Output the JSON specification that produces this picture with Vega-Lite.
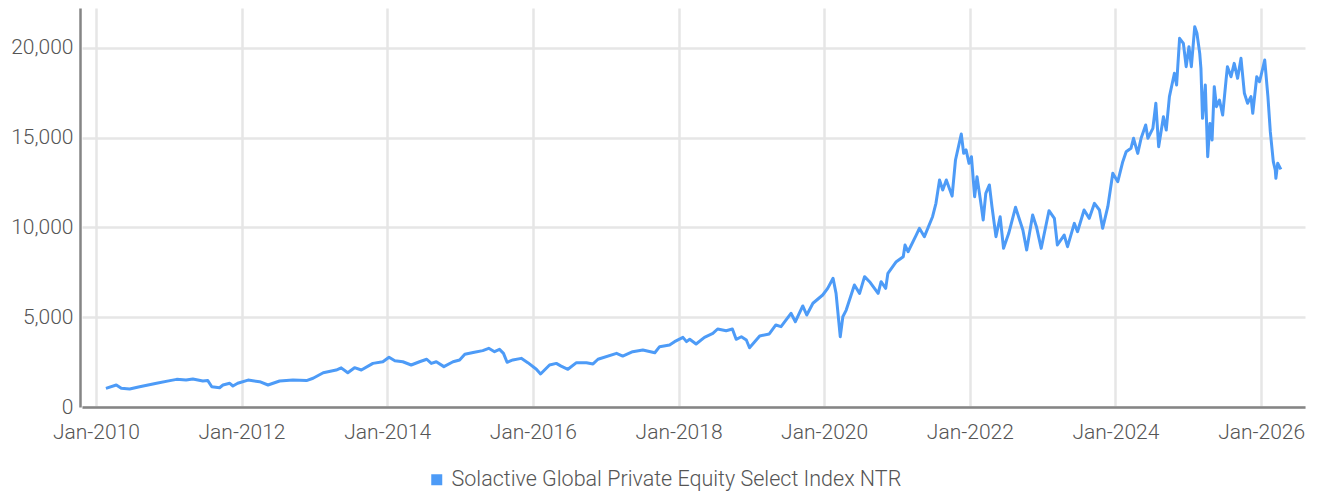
{
  "$schema": "https://vega.github.io/schema/vega-lite/v6.json",
  "width": 1223,
  "height": 399,
  "autosize": {"type": "none"},
  "padding": {"left": 82, "top": 8, "right": 14, "bottom": 86},
  "background": "white",
  "config": {
    "view": {"stroke": null},
    "font": "Roboto",
    "axis": {
      "labelFont": "Roboto",
      "labelFontSize": 21,
      "labelFontWeight": 300,
      "labelColor": "#555555",
      "gridColor": "#e6e6e6",
      "gridWidth": 2.5,
      "domainColor": "#858585",
      "domainWidth": 2.5,
      "ticks": false,
      "title": null
    },
    "legend": {
      "labelFont": "Roboto",
      "labelFontSize": 21.5,
      "labelFontWeight": 300,
      "labelColor": "#555555",
      "labelLimit": 0,
      "padding": 0
    }
  },
  "data": {
    "values": [
      {"date": "2010-02-20", "value": 1040},
      {"date": "2010-04-13", "value": 1225},
      {"date": "2010-05-08", "value": 1040},
      {"date": "2010-06-19", "value": 1000},
      {"date": "2010-08-08", "value": 1130},
      {"date": "2010-11-01", "value": 1320},
      {"date": "2011-01-07", "value": 1470},
      {"date": "2011-02-10", "value": 1540},
      {"date": "2011-03-29", "value": 1500},
      {"date": "2011-05-02", "value": 1560},
      {"date": "2011-06-21", "value": 1450},
      {"date": "2011-07-16", "value": 1470},
      {"date": "2011-08-05", "value": 1130},
      {"date": "2011-09-13", "value": 1075},
      {"date": "2011-09-30", "value": 1225},
      {"date": "2011-11-03", "value": 1320},
      {"date": "2011-11-19", "value": 1170},
      {"date": "2011-12-13", "value": 1320},
      {"date": "2012-02-03", "value": 1500},
      {"date": "2012-04-01", "value": 1410},
      {"date": "2012-05-13", "value": 1225},
      {"date": "2012-07-10", "value": 1450},
      {"date": "2012-09-15", "value": 1500},
      {"date": "2012-11-22", "value": 1470},
      {"date": "2012-12-25", "value": 1600},
      {"date": "2013-02-14", "value": 1910},
      {"date": "2013-04-20", "value": 2060},
      {"date": "2013-05-15", "value": 2180},
      {"date": "2013-06-17", "value": 1910},
      {"date": "2013-07-21", "value": 2190},
      {"date": "2013-08-24", "value": 2060},
      {"date": "2013-10-21", "value": 2430},
      {"date": "2013-12-10", "value": 2520},
      {"date": "2014-01-10", "value": 2770},
      {"date": "2014-02-08", "value": 2580},
      {"date": "2014-03-20", "value": 2520},
      {"date": "2014-05-01", "value": 2340},
      {"date": "2014-06-12", "value": 2520},
      {"date": "2014-07-18", "value": 2660},
      {"date": "2014-08-10", "value": 2430},
      {"date": "2014-09-04", "value": 2520},
      {"date": "2014-10-12", "value": 2250},
      {"date": "2014-11-27", "value": 2520},
      {"date": "2014-12-30", "value": 2620},
      {"date": "2015-01-25", "value": 2935},
      {"date": "2015-03-14", "value": 3050},
      {"date": "2015-04-25", "value": 3140},
      {"date": "2015-05-25", "value": 3270},
      {"date": "2015-06-23", "value": 3080},
      {"date": "2015-07-18", "value": 3210},
      {"date": "2015-08-07", "value": 2990},
      {"date": "2015-08-25", "value": 2490},
      {"date": "2015-09-23", "value": 2620},
      {"date": "2015-11-04", "value": 2710},
      {"date": "2015-12-07", "value": 2470},
      {"date": "2016-01-19", "value": 2100},
      {"date": "2016-02-09", "value": 1840},
      {"date": "2016-03-25", "value": 2340},
      {"date": "2016-04-28", "value": 2430},
      {"date": "2016-05-22", "value": 2280},
      {"date": "2016-06-25", "value": 2100},
      {"date": "2016-08-07", "value": 2470},
      {"date": "2016-09-26", "value": 2470},
      {"date": "2016-10-29", "value": 2400},
      {"date": "2016-11-23", "value": 2660},
      {"date": "2017-02-24", "value": 2990},
      {"date": "2017-03-27", "value": 2840},
      {"date": "2017-05-16", "value": 3080},
      {"date": "2017-07-06", "value": 3175},
      {"date": "2017-09-04", "value": 3025},
      {"date": "2017-09-28", "value": 3360},
      {"date": "2017-11-17", "value": 3450},
      {"date": "2017-12-12", "value": 3640},
      {"date": "2018-01-23", "value": 3880},
      {"date": "2018-02-10", "value": 3640},
      {"date": "2018-02-26", "value": 3770},
      {"date": "2018-03-30", "value": 3510},
      {"date": "2018-05-11", "value": 3880},
      {"date": "2018-06-22", "value": 4100},
      {"date": "2018-07-16", "value": 4345},
      {"date": "2018-08-28", "value": 4250},
      {"date": "2018-09-28", "value": 4345},
      {"date": "2018-10-17", "value": 3770},
      {"date": "2018-11-12", "value": 3915},
      {"date": "2018-12-07", "value": 3730},
      {"date": "2018-12-23", "value": 3300},
      {"date": "2019-02-12", "value": 3955},
      {"date": "2019-04-01", "value": 4070},
      {"date": "2019-05-04", "value": 4570},
      {"date": "2019-05-30", "value": 4475},
      {"date": "2019-07-19", "value": 5220},
      {"date": "2019-08-10", "value": 4750},
      {"date": "2019-09-16", "value": 5630},
      {"date": "2019-10-06", "value": 5125},
      {"date": "2019-11-06", "value": 5780},
      {"date": "2019-12-25", "value": 6240},
      {"date": "2020-01-19", "value": 6610},
      {"date": "2020-02-15", "value": 7170},
      {"date": "2020-03-01", "value": 6330},
      {"date": "2020-03-22", "value": 3915},
      {"date": "2020-04-04", "value": 5030},
      {"date": "2020-04-21", "value": 5400},
      {"date": "2020-06-01", "value": 6800},
      {"date": "2020-06-27", "value": 6330},
      {"date": "2020-07-22", "value": 7260},
      {"date": "2020-08-16", "value": 6980},
      {"date": "2020-09-28", "value": 6330},
      {"date": "2020-10-13", "value": 6980},
      {"date": "2020-11-05", "value": 6610},
      {"date": "2020-11-16", "value": 7450},
      {"date": "2020-12-28", "value": 8095},
      {"date": "2021-02-01", "value": 8370},
      {"date": "2021-02-10", "value": 9025},
      {"date": "2021-02-25", "value": 8650},
      {"date": "2021-04-07", "value": 9580},
      {"date": "2021-04-23", "value": 9955},
      {"date": "2021-05-18", "value": 9490},
      {"date": "2021-06-28", "value": 10600},
      {"date": "2021-07-15", "value": 11350},
      {"date": "2021-08-02", "value": 12645},
      {"date": "2021-08-18", "value": 12090},
      {"date": "2021-09-05", "value": 12645},
      {"date": "2021-10-04", "value": 11750},
      {"date": "2021-10-21", "value": 13760},
      {"date": "2021-11-07", "value": 14600},
      {"date": "2021-11-19", "value": 15210},
      {"date": "2021-12-01", "value": 14130},
      {"date": "2021-12-13", "value": 14320},
      {"date": "2021-12-28", "value": 13575},
      {"date": "2022-01-09", "value": 13945},
      {"date": "2022-01-25", "value": 11715},
      {"date": "2022-02-06", "value": 12830},
      {"date": "2022-02-28", "value": 11160},
      {"date": "2022-03-09", "value": 10420},
      {"date": "2022-03-22", "value": 11905},
      {"date": "2022-04-09", "value": 12370},
      {"date": "2022-04-22", "value": 11160},
      {"date": "2022-05-12", "value": 9490},
      {"date": "2022-06-02", "value": 10600},
      {"date": "2022-06-19", "value": 8840},
      {"date": "2022-07-15", "value": 9675},
      {"date": "2022-08-18", "value": 11125},
      {"date": "2022-09-24", "value": 9860},
      {"date": "2022-10-13", "value": 8745},
      {"date": "2022-11-12", "value": 10695},
      {"date": "2022-12-01", "value": 10045},
      {"date": "2022-12-25", "value": 8840},
      {"date": "2023-02-02", "value": 10935},
      {"date": "2023-03-01", "value": 10510},
      {"date": "2023-03-16", "value": 9025},
      {"date": "2023-04-19", "value": 9580},
      {"date": "2023-05-06", "value": 8930},
      {"date": "2023-06-09", "value": 10230},
      {"date": "2023-06-25", "value": 9765},
      {"date": "2023-07-28", "value": 10975},
      {"date": "2023-08-23", "value": 10510},
      {"date": "2023-09-18", "value": 11345},
      {"date": "2023-10-13", "value": 10975},
      {"date": "2023-10-29", "value": 9955},
      {"date": "2023-11-24", "value": 11160},
      {"date": "2023-12-19", "value": 13020},
      {"date": "2024-01-13", "value": 12550},
      {"date": "2024-02-07", "value": 13665},
      {"date": "2024-02-24", "value": 14220},
      {"date": "2024-03-19", "value": 14410},
      {"date": "2024-04-01", "value": 14970},
      {"date": "2024-04-22", "value": 14130},
      {"date": "2024-05-09", "value": 14970},
      {"date": "2024-06-01", "value": 15710},
      {"date": "2024-06-12", "value": 14970},
      {"date": "2024-07-07", "value": 15525},
      {"date": "2024-07-22", "value": 16920},
      {"date": "2024-08-05", "value": 14500},
      {"date": "2024-08-29", "value": 16170},
      {"date": "2024-09-12", "value": 15430},
      {"date": "2024-09-28", "value": 17290},
      {"date": "2024-10-23", "value": 18590},
      {"date": "2024-11-03", "value": 17940},
      {"date": "2024-11-18", "value": 20540},
      {"date": "2024-12-07", "value": 20260},
      {"date": "2024-12-21", "value": 18960},
      {"date": "2025-01-04", "value": 20070},
      {"date": "2025-01-16", "value": 18960},
      {"date": "2025-02-02", "value": 21190},
      {"date": "2025-02-13", "value": 20820},
      {"date": "2025-02-27", "value": 19700},
      {"date": "2025-03-05", "value": 18870},
      {"date": "2025-03-13", "value": 16080},
      {"date": "2025-03-27", "value": 17940},
      {"date": "2025-04-08", "value": 13945},
      {"date": "2025-04-19", "value": 15800},
      {"date": "2025-04-30", "value": 14875},
      {"date": "2025-05-11", "value": 17845},
      {"date": "2025-05-22", "value": 16730},
      {"date": "2025-06-06", "value": 17100},
      {"date": "2025-06-22", "value": 16265},
      {"date": "2025-07-09", "value": 18215},
      {"date": "2025-07-16", "value": 18960},
      {"date": "2025-08-03", "value": 18400},
      {"date": "2025-08-19", "value": 19145},
      {"date": "2025-09-05", "value": 18310},
      {"date": "2025-09-22", "value": 19425},
      {"date": "2025-10-09", "value": 17475},
      {"date": "2025-10-25", "value": 16920},
      {"date": "2025-11-11", "value": 17290},
      {"date": "2025-11-20", "value": 16360},
      {"date": "2025-12-10", "value": 18400},
      {"date": "2025-12-24", "value": 18120},
      {"date": "2026-01-19", "value": 19330},
      {"date": "2026-02-04", "value": 17290},
      {"date": "2026-02-16", "value": 15340},
      {"date": "2026-03-03", "value": 13665},
      {"date": "2026-03-13", "value": 13200},
      {"date": "2026-03-16", "value": 12740},
      {"date": "2026-03-25", "value": 13575},
      {"date": "2026-04-10", "value": 13240}
    ]
  },
  "mark": {"type": "line", "strokeWidth": 3, "strokeJoin": "round"},
  "encoding": {
    "x": {
      "field": "date",
      "type": "temporal",
      "scale": {"domain": ["2009-10-23", "2026-08-09"]},
      "axis": {
        "format": "%b-%Y",
        "labelPadding": 14,
        "values": [
          {"year": 2010, "month": 1, "date": 1},
          {"year": 2012, "month": 1, "date": 1},
          {"year": 2014, "month": 1, "date": 1},
          {"year": 2016, "month": 1, "date": 1},
          {"year": 2018, "month": 1, "date": 1},
          {"year": 2020, "month": 1, "date": 1},
          {"year": 2022, "month": 1, "date": 1},
          {"year": 2024, "month": 1, "date": 1},
          {"year": 2026, "month": 1, "date": 1}
        ]
      }
    },
    "y": {
      "field": "value",
      "type": "quantitative",
      "scale": {"domain": [0, 22228], "nice": false},
      "axis": {
        "format": ",d",
        "values": [0, 5000, 10000, 15000, 20000],
        "labelPadding": 7,
        "offset": 2
      }
    },
    "color": {
      "datum": "Solactive Global Private Equity Select Index NTR",
      "type": "nominal",
      "scale": {"range": ["#4d9bf7"]},
      "legend": {
        "title": null,
        "orient": "none",
        "legendX": 344,
        "legendY": 461,
        "symbolType": "square",
        "symbolSize": 121,
        "symbolFillColor": "#4d9bf7",
        "symbolStrokeWidth": 0,
        "symbolOpacity": 1,
        "labelOffset": 4
      }
    }
  }
}
